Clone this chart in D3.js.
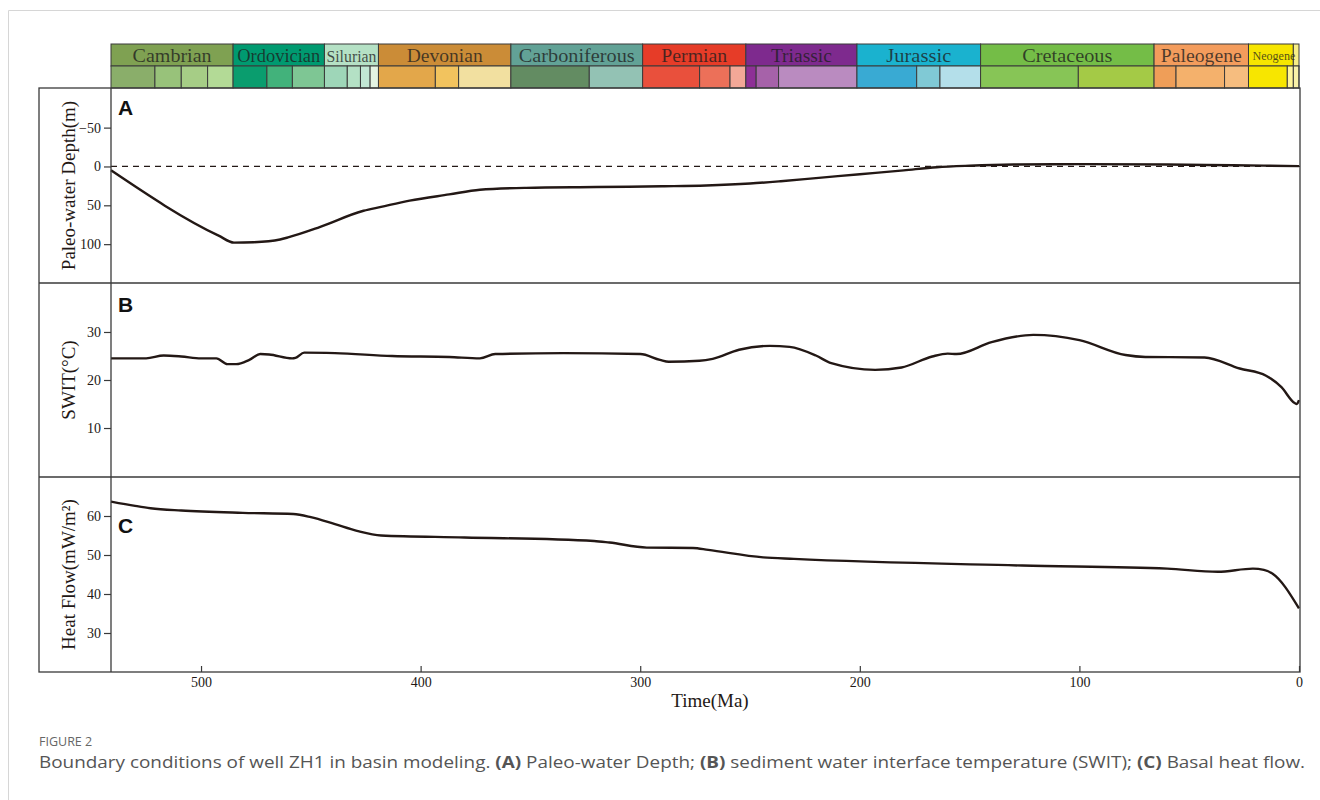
<!DOCTYPE html>
<html>
<head>
<meta charset="utf-8">
<script src="https://cdn.jsdelivr.net/npm/d3@7"></script>
<style>
  body { margin: 0; background: #fff; }
</style>
</head>
<body>
<svg id="chart" width="1320" height="800"></svg>
<script>
// geologic time scale (Ma)
const periodNames = ["Cambrian", "Ordovician", "Silurian", "Devonian", "Carboniferous", "Permian",
  "Triassic", "Jurassic", "Cretaceous", "Paleogene", "Neogene", "Quaternary"];
const periodBounds = [541, 485.4, 443.8, 419.2, 358.9, 298.9, 251.9, 201.3, 145, 66, 23, 2.58, 0];
const periodColors = ["#7fa152", "#009a70", "#b5e1c5", "#cb8c37", "#62a296", "#e63c28",
  "#7e2a8e", "#1ab2cf", "#74bd47", "#f39c5c", "#f6e500", "#f8ee86"];
const epochBounds = [541, 521, 509, 497, 485.4, 470, 458.4, 443.8, 433.4, 427.4, 423, 419.2,
  393.3, 382.7, 358.9, 323.2, 298.9, 272.95, 259.1, 251.9, 247.2, 237, 201.3, 174.1, 163.5, 145,
  100.5, 66, 56, 33.9, 23, 5.333, 2.58, 0.0117, 0];
const epochColors = ["#8aae6a", "#98c27a", "#a6cd86", "#b3da96",
  "#0a9d6e", "#42b27b", "#7ec694",
  "#9ed6b8", "#b4e1c5", "#c2e7d4", "#e4f4e3",
  "#e3a74a", "#f2c35e", "#f2e0a0",
  "#638c62", "#93c2b4",
  "#e9503c", "#ec7059", "#f3a897",
  "#8e3096", "#a662a9", "#ba8bc0",
  "#39aad3", "#80c9d5", "#b4dfea",
  "#87c556", "#a4ca46",
  "#ef9e58", "#f4b16c", "#f6bd7f",
  "#f7e600", "#fff59a",
  "#f9f1a8", "#fdf3e0"];

const timeTicks = [500, 400, 300, 200, 100, 0];
const depthTicks = [-50, 0, 50, 100];
const switTicks = [10, 20, 30];
const heatTicks = [30, 40, 50, 60];

// [age Ma, paleo-water depth m]
const waterDepth = [[541, 5], [492, 89], [485, 98], [476, 97.5], [464, 94], [460, 91], [446, 78],
  [426, 57], [418, 52], [405, 44], [387, 36], [373, 30], [352, 27.5], [320, 26.5], [290, 25.5],
  [270, 24.5], [250, 22], [236, 19], [220, 15], [200, 10], [180, 5], [165, 1], [150, -1],
  [130, -2.5], [100, -3], [60, -2.5], [30, -1.5], [0, -0.5]];

// [age Ma, SWIT degC]
const swit = [[541, 24.5], [525, 24.5], [517, 25.1], [509, 24.9], [500, 24.5], [493, 24.5],
  [488, 23.3], [484, 23.3], [478, 24.2], [473, 25.4], [469, 25.3], [458.5, 24.5], [457, 24.6],
  [453, 25.7], [439, 25.6], [413, 25.0], [387, 24.8], [373, 24.5], [366, 25.4], [335, 25.6],
  [300, 25.4], [291, 24.2], [287, 23.8], [273, 24.0], [267, 24.4], [255, 26.3], [241, 27.1],
  [232, 26.9], [220, 25.1], [213, 23.5], [193, 22.1], [181, 22.6], [167, 24.9], [160, 25.5],
  [156, 25.4], [140, 27.9], [121, 29.4], [100, 28.3], [79, 25.2], [70, 24.8], [43, 24.7],
  [27, 22.4], [15, 20.9], [8, 18.5], [2, 15.2], [1, 15.0], [0, 15.8]];

// [age Ma, basal heat flow mW/m2]
const heatFlow = [[541, 63.7], [530, 62.6], [523, 62.0], [509, 61.4], [481, 60.8], [458, 60.5],
  [450, 59.7], [439, 57.9], [429, 56.2], [418, 55.0], [380, 54.5], [321, 53.6], [314, 53.2],
  [297, 51.9], [276, 51.8], [269, 51.3], [244, 49.4], [230, 49.0], [126, 47.3], [60, 46.5],
  [37, 45.7], [21, 46.5], [16, 46.2], [12, 45.2], [0, 36.3]];

const svg = d3.select("#chart");
const serif = "'Liberation Serif', 'Times New Roman', serif";
const ink = "#231815";

const boxLeft = 39, axisX = 111, boxRight = 1300, boxBottom = 672;
const barTop = 44, barMid = 66, plotTop = 88;
const panels = [
  { y0: 88, y1: 283 },
  { y0: 283, y1: 477 },
  { y0: 477, y1: 672 }
];

const x = d3.scaleLinear().domain([541, 0]).range([axisX, 1299]);

// page frame
svg.append("path")
  .attr("d", "M8.5,800 V10.5 H1320")
  .attr("fill", "none")
  .attr("stroke", "#d6d6d6")
  .attr("stroke-width", 1);

// time scale bar
const periods = periodNames.map((n, i) => ({ name: n, from: periodBounds[i], to: periodBounds[i + 1], color: periodColors[i] }));
const epochs = epochColors.map((c, i) => ({ from: epochBounds[i], to: epochBounds[i + 1], color: c }));

const bar = svg.append("g");
bar.selectAll("rect.period")
  .data(periods)
  .join("rect")
  .attr("class", "period")
  .attr("x", d => x(d.from))
  .attr("y", barTop)
  .attr("width", d => x(d.to) - x(d.from))
  .attr("height", barMid - barTop)
  .attr("fill", d => d.color)
  .attr("stroke", "#3a3a3a")
  .attr("stroke-width", 1);

bar.selectAll("rect.epoch")
  .data(epochs)
  .join("rect")
  .attr("class", "epoch")
  .attr("x", d => x(d.from))
  .attr("y", barMid)
  .attr("width", d => x(d.to) - x(d.from))
  .attr("height", plotTop - barMid)
  .attr("fill", d => d.color)
  .attr("stroke", "#3a3a3a")
  .attr("stroke-width", 1);

// label widths as printed in the figure
const labelFit = {
  Cambrian: [79, 18], Ordovician: [83, 18], Silurian: [50, 17], Devonian: [76, 18],
  Carboniferous: [116, 18], Permian: [66, 18], Triassic: [61, 18], Jurassic: [65, 18],
  Cretaceous: [90, 18], Paleogene: [81, 18], Neogene: [43, 12]
};

bar.selectAll("text")
  .data(periods.filter(d => labelFit[d.name]))
  .join("text")
  .attr("x", d => (x(d.from) + x(d.to)) / 2 + (d.name === "Neogene" ? 3 : 0))
  .attr("y", d => d.name === "Neogene" ? 60 : 61.5)
  .attr("text-anchor", "middle")
  .attr("font-family", serif)
  .attr("font-size", d => labelFit[d.name][1])
  .attr("textLength", d => labelFit[d.name][0])
  .attr("lengthAdjust", "spacingAndGlyphs")
  .attr("fill", "#1e1e1e")
  .attr("fill-opacity", 0.78)
  .text(d => d.name);

// panels
const specs = [
  { data: waterDepth, domain: [-101, 150], ticks: depthTicks, title: "Paleo-water Depth(m)", letter: "A", reversed: true },
  { data: swit, domain: [-0.2, 40.2], ticks: switTicks, title: "SWIT(°C)", letter: "B" },
  { data: heatFlow, domain: [20, 70], ticks: heatTicks, title: "Heat Flow(mW/m²)", letter: "C" }
];

specs.forEach((s, i) => {
  const p = panels[i];
  const y = d3.scaleLinear().domain(s.domain)
    .range(s.reversed ? [p.y0, p.y1] : [p.y1, p.y0]);

  const g = svg.append("g");

  // y axis
  const ax = g.append("g")
    .attr("transform", `translate(${axisX},0)`)
    .call(d3.axisLeft(y).tickValues(s.ticks).tickSize(7).tickPadding(3));
  ax.select(".domain").remove();
  ax.selectAll("line").attr("stroke", "#3a3a3a").attr("stroke-width", 1.2);
  ax.selectAll("text")
    .attr("font-family", serif)
    .attr("font-size", 14)
    .attr("fill", ink);

  // zero line in panel A
  if (s.reversed) {
    g.append("line")
      .attr("x1", axisX).attr("x2", boxRight)
      .attr("y1", y(0)).attr("y2", y(0))
      .attr("stroke", ink)
      .attr("stroke-width", 1.3)
      .attr("stroke-dasharray", "6,5");
  }

  const line = d3.line()
    .x(d => x(d[0]))
    .y(d => y(d[1]))
    .curve(d3.curveMonotoneX);

  g.append("path")
    .datum(s.data)
    .attr("fill", "none")
    .attr("stroke", ink)
    .attr("stroke-width", 2.4)
    .attr("stroke-linejoin", "round")
    .attr("d", line);

  // axis title
  g.append("text")
    .attr("transform", `translate(68,${(p.y0 + p.y1) / 2}) rotate(-90)`)
    .attr("text-anchor", "middle")
    .attr("dy", "0.35em")
    .attr("font-family", serif)
    .attr("font-size", 19)
    .attr("fill", ink)
    .text(s.title);

  // panel letter
  const letterY = [115, 312, 533][i];
  g.append("text")
    .attr("x", 118)
    .attr("y", letterY)
    .attr("font-family", "'Liberation Sans', Arial, sans-serif")
    .attr("font-weight", "bold")
    .attr("font-size", 21)
    .attr("fill", "#111")
    .text(s.letter);
});

// frame lines
const frame = svg.append("g")
  .attr("fill", "none")
  .attr("stroke", "#3a3a3a")
  .attr("stroke-width", 1.3);
frame.append("rect")
  .attr("x", boxLeft).attr("y", plotTop)
  .attr("width", boxRight - boxLeft).attr("height", boxBottom - plotTop);
frame.selectAll("line.sep")
  .data([283, 477])
  .join("line")
  .attr("x1", boxLeft).attr("x2", boxRight)
  .attr("y1", d => d).attr("y2", d => d);
frame.append("line")
  .attr("x1", axisX).attr("x2", axisX)
  .attr("y1", plotTop).attr("y2", boxBottom);

// x axis
const xa = svg.append("g")
  .attr("transform", `translate(0,${boxBottom})`)
  .call(d3.axisBottom(x).tickValues(timeTicks).tickSize(-6).tickPadding(5));
xa.select(".domain").remove();
xa.selectAll("line").attr("stroke", "#3a3a3a").attr("stroke-width", 1.2);
xa.selectAll("text")
  .attr("font-family", serif)
  .attr("font-size", 14)
  .attr("fill", ink);

svg.append("text")
  .attr("x", 710)
  .attr("y", 707)
  .attr("text-anchor", "middle")
  .attr("font-family", serif)
  .attr("font-size", 19)
  .attr("fill", ink)
  .text("Time(Ma)");

// caption
const capFont = "'Open Sans', 'Noto Sans', sans-serif";
svg.append("text")
  .attr("x", 39)
  .attr("y", 746)
  .attr("font-family", capFont)
  .attr("font-size", 12.5)
  .attr("fill", "#666")
  .text("FIGURE 2");

const cap = svg.append("text")
  .attr("x", 39)
  .attr("y", 768)
  .attr("font-family", capFont)
  .attr("font-size", 15.5)
  .attr("fill", "#555")
  .attr("textLength", 1266)
  .attr("lengthAdjust", "spacingAndGlyphs");
[
  ["Boundary conditions of well ZH1 in basin modeling. ", false],
  ["(A)", true], [" Paleo-water Depth; ", false],
  ["(B)", true], [" sediment water interface temperature (SWIT); ", false],
  ["(C)", true], [" Basal heat flow.", false]
].forEach(([t, b]) => {
  cap.append("tspan").attr("font-weight", b ? "bold" : null).text(t);
});
</script>
</body>
</html>
